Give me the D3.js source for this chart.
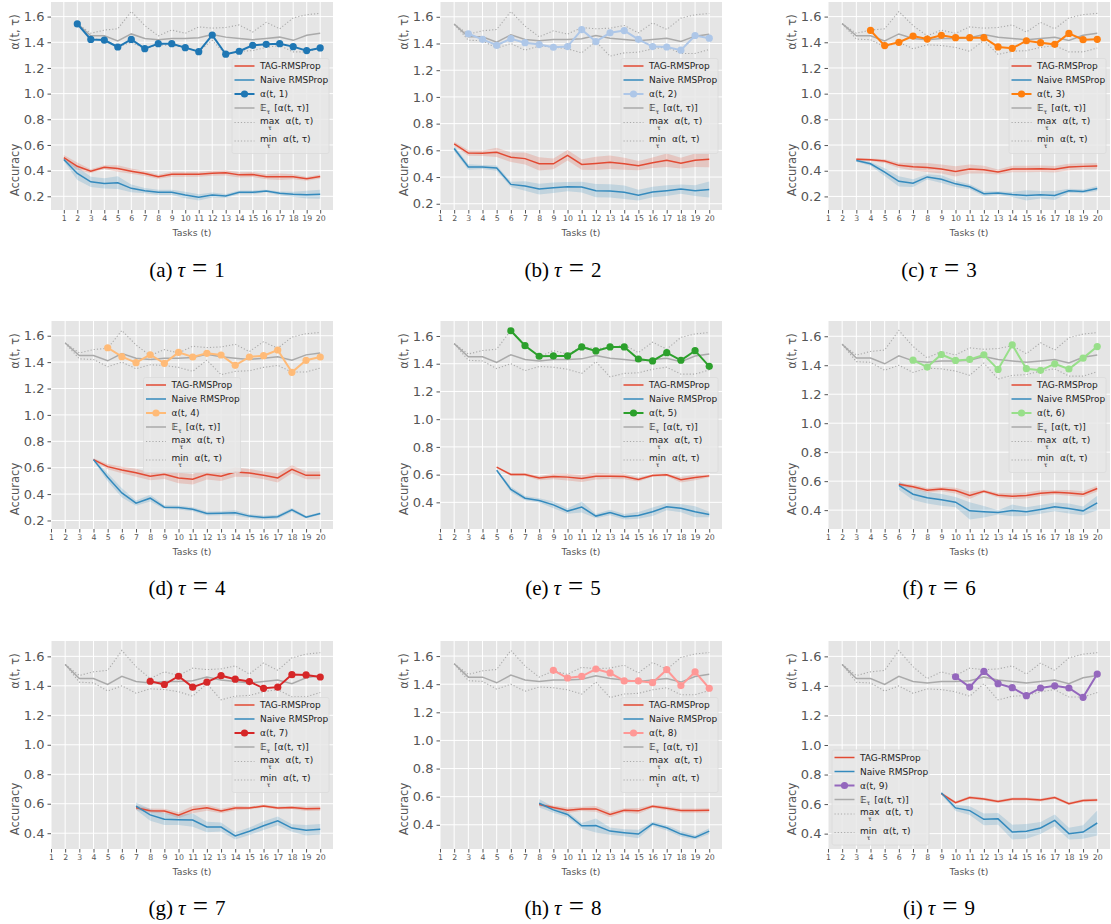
<!DOCTYPE html>
<html>
<head>
<meta charset="utf-8">
<script src="https://cdn.jsdelivr.net/npm/d3@7"></script>
<style>
  body { margin: 0; background: #fff; }
  svg { display: block; }
</style>
</head>
<body>
<script>
// shared gray curves over tau, for t = 2..20
var alphaMean = [1.545,1.45,1.45,1.41,1.465,1.43,1.42,1.43,1.43,1.435,1.46,1.44,1.43,1.42,1.43,1.44,1.415,1.455,1.47];
var alphaMax  = [1.545,1.47,1.495,1.505,1.64,1.53,1.45,1.495,1.47,1.52,1.51,1.515,1.535,1.48,1.555,1.505,1.59,1.615,1.625];
var alphaMin  = [1.545,1.425,1.42,1.365,1.40,1.35,1.38,1.375,1.36,1.33,1.415,1.305,1.33,1.335,1.36,1.375,1.325,1.325,1.355];

// alpha(t, tau), starts at t = tau + 1
var alphaTau = [
  [1.543,1.422,1.417,1.363,1.422,1.35,1.389,1.389,1.358,1.327,1.456,1.307,1.33,1.376,1.384,1.389,1.366,1.335,1.356],
  [1.473,1.431,1.387,1.436,1.406,1.392,1.372,1.377,1.504,1.414,1.48,1.497,1.431,1.377,1.374,1.35,1.46,1.44],
  [1.492,1.374,1.40,1.448,1.425,1.454,1.436,1.436,1.436,1.364,1.353,1.412,1.397,1.384,1.469,1.42,1.423],
  [1.509,1.441,1.396,1.456,1.391,1.474,1.439,1.467,1.454,1.376,1.439,1.449,1.492,1.323,1.414,1.439],
  [1.638,1.53,1.454,1.456,1.456,1.521,1.492,1.521,1.521,1.434,1.42,1.48,1.425,1.494,1.381],
  [1.435,1.387,1.474,1.433,1.44,1.472,1.371,1.541,1.376,1.365,1.41,1.374,1.449,1.529],
  [1.431,1.409,1.465,1.391,1.425,1.469,1.445,1.429,1.383,1.391,1.476,1.474,1.46],
  [1.499,1.444,1.456,1.508,1.48,1.423,1.423,1.411,1.503,1.39,1.487,1.371],
  [1.462,1.392,1.498,1.415,1.388,1.334,1.386,1.401,1.386,1.323,1.48]
];

// accuracy, starts at t = tau
var tagAcc = [
  [0.501,0.434,0.396,0.427,0.416,0.396,0.378,0.352,0.372,0.372,0.372,0.38,0.383,0.367,0.37,0.352,0.352,0.352,0.336,0.354],
  [0.649,0.58,0.578,0.585,0.548,0.538,0.499,0.499,0.563,0.494,0.502,0.511,0.499,0.485,0.507,0.526,0.504,0.526,0.534],
  [0.49,0.485,0.475,0.442,0.431,0.426,0.413,0.395,0.413,0.408,0.39,0.413,0.413,0.416,0.411,0.429,0.434,0.436],
  [0.661,0.608,0.583,0.562,0.535,0.55,0.522,0.512,0.55,0.535,0.567,0.56,0.542,0.522,0.588,0.542,0.542],
  [0.654,0.601,0.601,0.575,0.587,0.582,0.572,0.589,0.589,0.587,0.565,0.594,0.599,0.563,0.579,0.591],
  [0.578,0.562,0.537,0.546,0.535,0.501,0.53,0.503,0.496,0.501,0.517,0.523,0.519,0.51,0.549],
  [0.573,0.553,0.551,0.522,0.56,0.573,0.551,0.571,0.571,0.584,0.571,0.575,0.566,0.568],
  [0.544,0.523,0.503,0.513,0.513,0.473,0.503,0.499,0.532,0.518,0.501,0.501,0.503],
  [0.671,0.61,0.644,0.635,0.617,0.635,0.635,0.628,0.644,0.603,0.625,0.628]
];
var tagBand = [
  [0.02,0.03,0.015,0.015,0.025,0.02,0.02,0.015,0.02,0.02,0.02,0.02,0.02,0.02,0.02,0.02,0.025,0.02,0.015,0.015],
  [0.015,0.02,0.02,0.035,0.035,0.045,0.05,0.04,0.04,0.04,0.05,0.05,0.045,0.035,0.04,0.05,0.04,0.05,0.06],
  [0.01,0.01,0.015,0.02,0.03,0.035,0.035,0.04,0.035,0.03,0.02,0.025,0.025,0.025,0.025,0.025,0.025,0.025],
  [0.01,0.02,0.025,0.03,0.03,0.035,0.04,0.04,0.04,0.035,0.035,0.03,0.03,0.035,0.03,0.03,0.03],
  [0.005,0.01,0.01,0.015,0.02,0.025,0.025,0.025,0.02,0.02,0.015,0.01,0.01,0.02,0.02,0.01],
  [0.01,0.015,0.015,0.015,0.02,0.025,0.01,0.015,0.02,0.02,0.02,0.015,0.02,0.02,0.02],
  [0.015,0.015,0.015,0.02,0.025,0.02,0.015,0.015,0.01,0.01,0.01,0.01,0.015,0.015],
  [0.01,0.015,0.02,0.015,0.02,0.02,0.015,0.02,0.01,0.015,0.015,0.015,0.015],
  [0.01,0.01,0.01,0.01,0.01,0.01,0.01,0.01,0.01,0.01,0.01,0.01]
];
var naiveAcc = [
  [0.486,0.378,0.313,0.30,0.306,0.262,0.244,0.231,0.231,0.21,0.192,0.21,0.203,0.231,0.231,0.241,0.223,0.216,0.213,0.216],
  [0.614,0.475,0.475,0.467,0.345,0.333,0.31,0.32,0.328,0.325,0.298,0.296,0.286,0.264,0.288,0.298,0.31,0.298,0.306],
  [0.48,0.454,0.39,0.318,0.303,0.352,0.334,0.298,0.275,0.221,0.226,0.215,0.208,0.213,0.208,0.244,0.239,0.262],
  [0.661,0.527,0.409,0.331,0.369,0.301,0.298,0.285,0.253,0.255,0.258,0.233,0.222,0.228,0.28,0.225,0.253],
  [0.632,0.493,0.43,0.414,0.382,0.337,0.366,0.301,0.327,0.296,0.306,0.332,0.368,0.358,0.332,0.313],
  [0.571,0.51,0.485,0.471,0.455,0.395,0.389,0.384,0.398,0.389,0.405,0.423,0.411,0.395,0.45],
  [0.584,0.524,0.495,0.491,0.489,0.442,0.442,0.382,0.413,0.451,0.484,0.435,0.42,0.427],
  [0.553,0.506,0.473,0.393,0.395,0.355,0.344,0.334,0.407,0.379,0.334,0.31,0.355],
  [0.675,0.574,0.556,0.497,0.5,0.411,0.416,0.438,0.49,0.4,0.411,0.472]
];
var naiveBand = [
  [0.01,0.05,0.04,0.04,0.05,0.03,0.02,0.02,0.02,0.025,0.025,0.02,0.015,0.015,0.015,0.01,0.015,0.02,0.03,0.035],
  [0.02,0.02,0.015,0.02,0.02,0.035,0.04,0.04,0.035,0.04,0.05,0.05,0.05,0.04,0.04,0.04,0.035,0.04,0.06],
  [0.01,0.015,0.03,0.04,0.03,0.02,0.03,0.025,0.02,0.02,0.015,0.02,0.04,0.03,0.035,0.015,0.015,0.02],
  [0.01,0.03,0.035,0.02,0.025,0.015,0.015,0.015,0.015,0.015,0.02,0.015,0.015,0.015,0.015,0.01,0.01],
  [0.005,0.02,0.015,0.015,0.025,0.02,0.04,0.015,0.02,0.02,0.025,0.03,0.025,0.03,0.04,0.02],
  [0.03,0.04,0.04,0.04,0.035,0.06,0.04,0.015,0.04,0.03,0.03,0.03,0.035,0.03,0.05],
  [0.025,0.04,0.04,0.035,0.045,0.035,0.03,0.025,0.025,0.03,0.03,0.025,0.035,0.035],
  [0.03,0.02,0.02,0.02,0.05,0.025,0.025,0.03,0.015,0.02,0.02,0.015,0.02],
  [0.01,0.02,0.03,0.04,0.04,0.05,0.05,0.04,0.04,0.04,0.045,0.085]
];

var taskTicks = d3.range(1, 21);
var accTicks = [0.2, 0.4, 0.6, 0.8, 1.0, 1.2, 1.4, 1.6];
var letters = ["a", "b", "c", "d", "e", "f", "g", "h", "i"];
var alphaColors = ["#1f77b4", "#aec7e8", "#ff7f0e", "#ffbb78", "#2ca02c", "#98df8a", "#d62728", "#ff9896", "#9467bd"];
var legendLoc = ["center right", "center right", "center right", "center", "center right", "center right", "center right", "center right", "lower left"];

var red = "#E24A33", blue = "#348ABD", gray = "#aaaaaa";

var W = 1111, H = 924;
var svg = d3.select("body").append("svg").attr("width", W).attr("height", H);

var colLeft = [51, 440, 828], rowTop = [2, 321, 641];
var pw = 282, ph = 208;
var capX = [187, 563, 939], capY = [270, 588, 908];
var font = "'DejaVu Sans', sans-serif";

for (var k = 0; k < 9; k++) drawPanel(k);

function pts(arr, start, band) {
    return arr.map(function(v, i) {
        return {t: start + i, v: v, e: band ? band[i] : 0};
    });
}

function drawPanel(k) {
    var tau = k + 1;
    var col = k % 3, row = Math.floor(k / 3);
    var g = svg.append("g").attr("transform", "translate(" + colLeft[col] + "," + rowTop[row] + ")");

    var tag = pts(tagAcc[k], tau, tagBand[k]);
    var naive = pts(naiveAcc[k], tau, naiveBand[k]);
    var alpha = pts(alphaTau[k], tau + 1);
    var mean = pts(alphaMean, 2), mx = pts(alphaMax, 2), mn = pts(alphaMin, 2);
    var all = tag.concat(naive, alpha, mean, mx, mn);

    // matplotlib-like autoscale with 5% margins; x ticks 1..20 widen the view
    var tmin = d3.min(all, function(d){ return d.t; }), tmax = 20;
    var xm = (tmax - tmin) * 0.05;
    var x = d3.scaleLinear().domain([Math.min(1, tmin - xm), tmax + xm]).range([0, pw]);
    var lo = d3.min(all, function(d){ return d.v - d.e; });
    var hi = d3.max(all, function(d){ return d.v + d.e; });
    var ym = (hi - lo) * 0.05;
    var y = d3.scaleLinear().domain([lo - ym, hi + ym]).range([ph, 0]);
    var yt = accTicks.filter(function(v){ return v >= y.domain()[0] && v <= y.domain()[1]; });

    g.append("rect").attr("width", pw).attr("height", ph).attr("fill", "#E5E5E5");

    // grid
    g.append("g").selectAll("line").data(taskTicks).enter().append("line")
        .attr("x1", function(d){ return x(d); }).attr("x2", function(d){ return x(d); })
        .attr("y1", 0).attr("y2", ph)
        .attr("stroke", "#fff").attr("stroke-width", 1);
    g.append("g").selectAll("line").data(yt).enter().append("line")
        .attr("y1", function(d){ return y(d); }).attr("y2", function(d){ return y(d); })
        .attr("x1", 0).attr("x2", pw)
        .attr("stroke", "#fff").attr("stroke-width", 1);

    // axes
    var xa = g.append("g").attr("transform", "translate(0," + ph + ")")
        .call(d3.axisBottom(x).tickValues(taskTicks).tickSize(3.5).tickPadding(2).tickFormat(d3.format("d")));
    xa.select(".domain").remove();
    xa.selectAll("line").attr("stroke", "#555");
    xa.selectAll("text").attr("fill", "#555").style("font-family", font).style("font-size", "7.8px");

    var ya = g.append("g")
        .call(d3.axisLeft(y).tickValues(yt).tickSize(3.5).tickPadding(3).tickFormat(d3.format(".1f")));
    ya.select(".domain").remove();
    ya.selectAll("line").attr("stroke", "#555");
    ya.selectAll("text").attr("fill", "#555").style("font-family", font).style("font-size", "13px");

    g.append("text").attr("x", pw / 2).attr("y", ph + 26)
        .attr("text-anchor", "middle").attr("fill", "#555")
        .style("font-family", font).style("font-size", "9.3px").text("Tasks (t)");
    g.append("text").attr("transform", "translate(-36," + 30 + ") rotate(-90)")
        .attr("text-anchor", "middle").attr("dy", "0.35em").attr("fill", "#555")
        .style("font-family", font).style("font-size", "11.5px").text("α(t, τ)");
    g.append("text").attr("transform", "translate(-36," + 168 + ") rotate(-90)")
        .attr("text-anchor", "middle").attr("dy", "0.35em").attr("fill", "#555")
        .style("font-family", font).style("font-size", "11.5px").text("Accuracy");

    var line = d3.line().x(function(d){ return x(d.t); }).y(function(d){ return y(d.v); });
    var area = d3.area().x(function(d){ return x(d.t); })
        .y0(function(d){ return y(d.v - d.e); }).y1(function(d){ return y(d.v + d.e); });

    g.append("path").datum(tag).attr("d", area).attr("fill", red).attr("fill-opacity", 0.2);
    g.append("path").datum(naive).attr("d", area).attr("fill", blue).attr("fill-opacity", 0.2);
    g.append("path").datum(tag).attr("d", line).attr("fill", "none").attr("stroke", red).attr("stroke-width", 1.5);
    g.append("path").datum(naive).attr("d", line).attr("fill", "none").attr("stroke", blue).attr("stroke-width", 1.5);

    g.append("path").datum(mean).attr("d", line).attr("fill", "none").attr("stroke", gray).attr("stroke-width", 1.5);
    [mx, mn].forEach(function(s) {
        g.append("path").datum(s).attr("d", line).attr("fill", "none")
            .attr("stroke", gray).attr("stroke-width", 1.1).attr("stroke-dasharray", "1.2,2");
    });

    var c = alphaColors[k];
    g.append("path").datum(alpha).attr("d", line).attr("fill", "none").attr("stroke", c).attr("stroke-width", 2);
    g.append("g").selectAll("circle").data(alpha).enter().append("circle")
        .attr("cx", function(d){ return x(d.t); }).attr("cy", function(d){ return y(d.v); })
        .attr("r", 3.6).attr("fill", c);

    drawLegend(g, k, c);

    // caption
    var cap = svg.append("text").attr("x", capX[col]).attr("y", capY[row] + 7)
        .attr("text-anchor", "middle").attr("fill", "#000")
        .style("font-family", "'Liberation Serif', 'DejaVu Serif', serif").style("font-size", "21px");
    cap.append("tspan").text("(" + letters[k] + ")");
    cap.append("tspan").attr("dx", 5).style("font-style", "italic").text("τ");
    cap.append("tspan").attr("dx", 7).style("font-size", "27px").text("=");
    cap.append("tspan").attr("dx", 7).text(tau);
}

function drawLegend(g, k, c) {
    var lw = 97, lh = 95;
    var loc = legendLoc[k];
    var bx, by;
    if (loc == "center right") { bx = pw - 4 - lw; by = (ph - lh) / 2; }
    else if (loc == "center") { bx = (pw - lw) / 2; by = (ph - lh) / 2; }
    else { bx = 4; by = ph - 4 - lh; }

    var lg = g.append("g").attr("transform", "translate(" + bx + "," + by + ")");
    lg.append("rect").attr("width", lw).attr("height", lh).attr("rx", 2)
        .attr("fill", "#E8E8E8").attr("fill-opacity", 0.85)
        .attr("stroke", "#dadada").attr("stroke-width", 0.8);

    var rows = [7.5, 21.5, 35.5, 49.5, 64, 82.5];
    var styles = [
        {stroke: red, w: 1.5},
        {stroke: blue, w: 1.5},
        {stroke: c, w: 2, dot: true},
        {stroke: gray, w: 1.5},
        {stroke: gray, w: 1.1, dash: "1.2,2"},
        {stroke: gray, w: 1.1, dash: "1.2,2"}
    ];
    styles.forEach(function(s, i) {
        var l = lg.append("line").attr("x1", 2.5).attr("x2", 22.5)
            .attr("y1", rows[i]).attr("y2", rows[i])
            .attr("stroke", s.stroke).attr("stroke-width", s.w);
        if (s.dash) l.attr("stroke-dasharray", s.dash);
        if (s.dot) lg.append("circle").attr("cx", 12.5).attr("cy", rows[i]).attr("r", 3.6).attr("fill", s.stroke);
    });

    function txt(yp) {
        return lg.append("text").attr("x", 28).attr("y", yp).attr("dy", "0.35em")
            .attr("fill", "#222").style("font-family", font).style("font-size", "9px");
    }
    txt(rows[0]).text("TAG-RMSProp");
    txt(rows[1]).text("Naive RMSProp");
    txt(rows[2]).text("α(t, " + (k + 1) + ")");

    // E_tau [alpha(t, tau)] as one text with a subscript
    var e = txt(rows[3]);
    e.append("tspan").text("𝔼");
    e.append("tspan").attr("dy", 2.5).style("font-size", "6px").text("τ");
    e.append("tspan").attr("dy", -2.5).attr("dx", 4).text("[α(t, τ)]");

    // max / min with tau set below the word
    ["max", "min"].forEach(function(word, j) {
        var t = txt(rows[4 + j] - 2);
        var w1 = t.append("tspan").text(word);
        var ww = w1.node().getComputedTextLength();
        var sub = t.append("tspan").attr("dy", 6).style("font-size", "6px").text("τ");
        var sw = sub.node().getComputedTextLength();
        sub.attr("dx", -(ww / 2 + sw / 2));
        t.append("tspan").attr("dy", -6).attr("dx", ww / 2 - sw / 2 + 6).text("α(t, τ)");
    });
}
</script>
</body>
</html>
